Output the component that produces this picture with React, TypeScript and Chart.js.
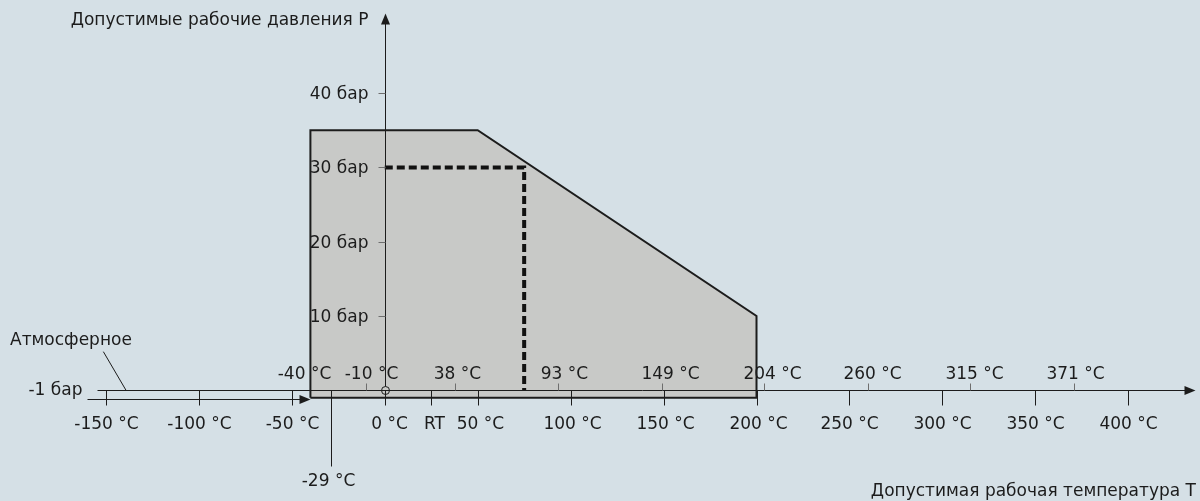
import React, { useEffect, useRef } from 'react';
import { Chart, registerables } from 'chart.js';

Chart.register(...registerables);

// ---- data ----
const envelopeT = [-40, -40, 50, 200, 200, -40];
const envelopeP = [-1, 35, 35, 10, -1, -1];
const dashedT = [0, 75, 75];
const dashedP = [30, 30, 0];
const pressureTicks = [10, 20, 30, 40];
const pressureLabels = ['10 бар', '20 бар', '30 бар', '40 бар'];
const lowerTempTicks = [-150, -100, -50, 0, 50, 100, 150, 200, 250, 300, 350, 400];
const lowerTempLabels = ['-150 °C', '-100 °C', '-50 °C', '0 °C', '50 °C', '100 °C', '150 °C', '200 °C', '250 °C', '300 °C', '350 °C', '400 °C'];
const upperTempTicks = [-40, -10, 38, 93, 149, 204, 260, 315, 371];
const upperTempLabels = ['-40 °C', '-10 °C', '38 °C', '93 °C', '149 °C', '204 °C', '260 °C', '315 °C', '371 °C'];
const roomTemp = 25;
const roomTempLabel = 'RT';
const minTemp = -29;
const minTempLabel = '-29 °C';
const atmPressure = 0;
const vacuumPressure = -1;
const vacuumLabel = '-1 бар';
const atmLabel = 'Атмосферное';
const yTitle = 'Допустимые рабочие давления P';
const xTitle = 'Допустимая рабочая температура T';

// ---- layout ----
const W = 1200;
const H = 501;
const X_MIN = -207;
const X_MAX = 438.6;
const Y_MIN = -14.9;
const Y_MAX = 52.53;
const AXIS_T_START = -155;
const AXIS_T_END = 436;
const VAC_T_START = -160;
const Y_AXIS_TOP = 50.8;
const ATM_POINTER_T = [-151.4, -139.2];
const ATM_POINTER_P = [5.2, 0];
const UPPER_LABEL_SHIFT = [-6, 5, 2, 6, 8, 8, 4, 4, 1];
const LOWER_LABEL_SHIFT = [0, 0, 0, 4, 2, 1, 1, 1, 0, 0, 0, 0];
const BG = '#d5e0e6';
const FILL = '#c8c9c7';
const INK = '#1c1c1c';
const TICK_GRAY = '#6e6e6e';
const FONT = '17px "DejaVu Sans", sans-serif';

function arrow(ctx: CanvasRenderingContext2D, x: number, y: number, dir: 'right' | 'up') {
  ctx.beginPath();
  if (dir === 'right') {
    ctx.moveTo(x, y);
    ctx.lineTo(x - 11, y - 4.5);
    ctx.lineTo(x - 11, y + 4.5);
  } else {
    ctx.moveTo(x, y);
    ctx.lineTo(x - 4.5, y + 11);
    ctx.lineTo(x + 4.5, y + 11);
  }
  ctx.closePath();
  ctx.fill();
}

const overlay = {
  id: 'overlay',
  beforeDraw(chart: any) {
    const { ctx } = chart;
    ctx.save();
    ctx.fillStyle = BG;
    ctx.fillRect(0, 0, chart.width, chart.height);
    ctx.restore();
  },
  afterDatasetsDraw(chart: any) {
    const ctx: CanvasRenderingContext2D = chart.ctx;
    const xs = chart.scales.x;
    const ys = chart.scales.y;
    const X = (v: number) => Math.round(xs.getPixelForValue(v)) + 0.5;
    const Y = (v: number) => Math.round(ys.getPixelForValue(v)) + 0.5;
    ctx.save();
    ctx.lineWidth = 1;
    ctx.strokeStyle = INK;
    ctx.fillStyle = INK;
    ctx.font = FONT;

    const y0 = Y(atmPressure);
    const x0 = X(0);

    // main temperature axis (atmospheric)
    ctx.beginPath();
    ctx.moveTo(X(AXIS_T_START), y0);
    ctx.lineTo(X(AXIS_T_END) - 8, y0);
    ctx.stroke();
    arrow(ctx, X(AXIS_T_END), y0, 'right');

    // vacuum line
    const yv = Y(vacuumPressure) + 1;
    ctx.beginPath();
    ctx.moveTo(X(VAC_T_START), yv);
    ctx.lineTo(X(envelopeT[0]) - 8, yv);
    ctx.stroke();
    arrow(ctx, X(envelopeT[0]), yv, 'right');

    // pressure axis
    ctx.beginPath();
    ctx.moveTo(x0, y0 - 4);
    ctx.lineTo(x0, Y(Y_AXIS_TOP) + 8);
    ctx.stroke();
    arrow(ctx, x0, Y(Y_AXIS_TOP), 'up');

    // origin circle
    ctx.beginPath();
    ctx.arc(x0, y0, 4, 0, Math.PI * 2);
    ctx.stroke();

    // pressure ticks
    ctx.strokeStyle = TICK_GRAY;
    ctx.textAlign = 'right';
    ctx.textBaseline = 'middle';
    pressureTicks.forEach((p, i) => {
      const y = Y(p);
      ctx.beginPath();
      ctx.moveTo(x0 - 7, y);
      ctx.lineTo(x0, y);
      ctx.stroke();
      ctx.fillText(pressureLabels[i], x0 - 17, y + 1);
    });

    // upper temperature ticks
    ctx.textAlign = 'center';
    ctx.textBaseline = 'alphabetic';
    upperTempTicks.forEach((t, i) => {
      const x = X(t);
      if (i > 0) {
        ctx.beginPath();
        ctx.moveTo(x, y0 - 7);
        ctx.lineTo(x, y0);
        ctx.stroke();
      }
      ctx.fillText(upperTempLabels[i], x + UPPER_LABEL_SHIFT[i], y0 - 12);
    });

    // lower temperature ticks
    ctx.strokeStyle = INK;
    lowerTempTicks.forEach((t, i) => {
      const x = X(t);
      ctx.beginPath();
      ctx.moveTo(x, y0);
      ctx.lineTo(x, y0 + 15);
      ctx.stroke();
      ctx.fillText(lowerTempLabels[i], x + LOWER_LABEL_SHIFT[i], y0 + 38);
    });
    // room temperature
    {
      const x = X(roomTemp);
      ctx.beginPath();
      ctx.moveTo(x, y0);
      ctx.lineTo(x, y0 + 15);
      ctx.stroke();
      ctx.fillText(roomTempLabel, x + 3, y0 + 38);
    }
    // minimum temperature
    {
      const x = X(minTemp);
      ctx.beginPath();
      ctx.moveTo(x, y0);
      ctx.lineTo(x, y0 + 76);
      ctx.stroke();
      ctx.fillText(minTempLabel, x - 3, y0 + 95);
    }

    // atmospheric pointer
    ctx.beginPath();
    ctx.moveTo(xs.getPixelForValue(ATM_POINTER_T[0]), ys.getPixelForValue(ATM_POINTER_P[0]));
    ctx.lineTo(xs.getPixelForValue(ATM_POINTER_T[1]), ys.getPixelForValue(ATM_POINTER_P[1]));
    ctx.stroke();
    ctx.textAlign = 'left';
    ctx.textBaseline = 'middle';
    ctx.fillText(atmLabel, 10, 341);
    ctx.textAlign = 'right';
    ctx.fillText(vacuumLabel, X(VAC_T_START) - 5, y0);

    // titles
    ctx.textAlign = 'right';
    ctx.fillText(yTitle, x0 - 17, 21);
    ctx.fillText(xTitle, 1196, 492);

    ctx.restore();
  },
};

export default function App() {
  const ref = useRef<HTMLCanvasElement | null>(null);
  useEffect(() => {
    if (!ref.current) return;
    const chart = new Chart(ref.current, {
      type: 'scatter',
      data: {
        datasets: [
          {
            data: envelopeT.map((t, i) => ({ x: t, y: envelopeP[i] })),
            showLine: true,
            fill: 'shape',
            backgroundColor: FILL,
            borderColor: INK,
            borderWidth: 2,
            borderJoinStyle: 'miter',
            pointRadius: 0,
            tension: 0,
            order: 2,
          },
          {
            data: dashedT.map((t, i) => ({ x: t, y: dashedP[i] })),
            showLine: true,
            fill: false,
            borderColor: '#111111',
            borderWidth: 4,
            borderDash: [8, 4],
            borderJoinStyle: 'miter',
            pointRadius: 0,
            tension: 0,
            order: 1,
          },
        ],
      },
      options: {
        responsive: false,
        maintainAspectRatio: false,
        animation: false,
        devicePixelRatio: 1,
        layout: { padding: 0 },
        events: [],
        scales: {
          x: { type: 'linear', min: X_MIN, max: X_MAX, display: false },
          y: { type: 'linear', min: Y_MIN, max: Y_MAX, display: false },
        },
        plugins: {
          legend: { display: false },
          tooltip: { enabled: false },
          title: { display: false },
        },
      },
      plugins: [overlay],
    } as any);
    return () => chart.destroy();
  }, []);
  return (
    <div style={{ position: 'fixed', left: 0, top: 0, width: W, height: H, background: BG }}>
      <canvas ref={ref} width={W} height={H} style={{ display: 'block' }} />
    </div>
  );
}
